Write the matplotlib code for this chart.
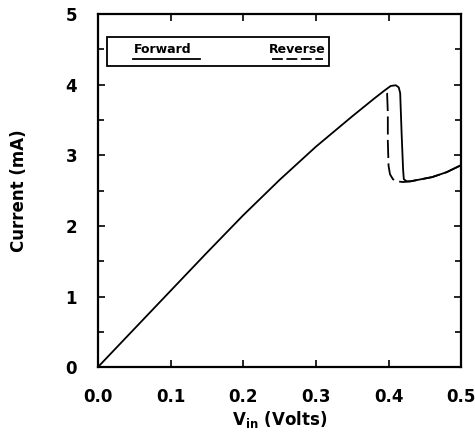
import matplotlib.pyplot as plt
from matplotlib.patches import Rectangle

plt.rcParams['font.family'] = 'DejaVu Sans'
plt.rcParams['font.weight'] = 'bold'

# forward sweep (solid)
v_fwd = [0.0, 0.05, 0.1, 0.15, 0.2, 0.25, 0.3, 0.35, 0.38, 0.395, 0.403, 0.41, 0.414, 0.416,
         0.418, 0.42, 0.421, 0.425, 0.43, 0.44, 0.46, 0.48, 0.5]
i_fwd = [0.0, 0.54, 1.08, 1.62, 2.15, 2.65, 3.12, 3.55, 3.8, 3.92, 3.98, 3.99, 3.96, 3.88,
         3.3, 2.8, 2.66, 2.63, 2.63, 2.65, 2.69, 2.76, 2.86]

# reverse sweep (dashed)
v_rev = [0.5, 0.48, 0.46, 0.44, 0.43, 0.42, 0.412, 0.406, 0.402, 0.4, 0.399, 0.399, 0.398, 0.396]
i_rev = [2.86, 2.76, 2.69, 2.65, 2.63, 2.62, 2.63, 2.66, 2.73, 2.85, 3.2, 3.6, 3.88, 3.93]

xticks = [0.0, 0.1, 0.2, 0.3, 0.4, 0.5]
yticks = [0, 1, 2, 3, 4, 5]

fig = plt.figure(figsize=(4.75, 4.34), dpi=100)
ax = fig.add_axes([0.206, 0.154, 0.765, 0.814])

ax.plot(v_rev, i_rev, color='black', lw=1.3, dashes=(10, 3))
ax.plot(v_fwd, i_fwd, color='black', lw=1.3)

ax.set_xlim(0, 0.5)
ax.set_ylim(0, 5)
ax.set_xticks(xticks)
ax.set_xticklabels(['%.1f' % t for t in xticks])
ax.set_yticks(yticks)
ax.set_yticks([0.5, 1.5, 2.5, 3.5, 4.5], minor=True)
ax.tick_params(which='both', direction='in', top=True, right=True, labelsize=12, width=1.2)
ax.tick_params(which='major', length=5)
ax.tick_params(which='minor', length=4)
ax.tick_params(axis='x', which='major', pad=15)
ax.tick_params(axis='y', which='major', pad=15)
for s in ax.spines.values():
    s.set_linewidth(1.6)

ax.set_xlabel(r'V$_{\mathbf{in}}$ (Volts)', fontsize=12, fontweight='bold', labelpad=2)
ax.set_ylabel('Current (mA)', fontsize=12, fontweight='bold', labelpad=27)

# legend box with line samples under the labels
ax.add_patch(Rectangle((0.025, 0.852), 0.612, 0.083, transform=ax.transAxes,
                       fill=False, lw=1.3, color='black'))
ax.text(0.178, 0.90, 'Forward', transform=ax.transAxes, ha='center', va='center', fontsize=9)
ax.text(0.55, 0.90, 'Reverse', transform=ax.transAxes, ha='center', va='center', fontsize=9)
ax.plot([0.096, 0.28], [0.872, 0.872], transform=ax.transAxes, color='black', lw=1.3)
ax.plot([0.478, 0.62], [0.872, 0.872], transform=ax.transAxes, color='black', lw=1.3,
        dashes=(6, 2))

fig.savefig('out.png', dpi=100)
